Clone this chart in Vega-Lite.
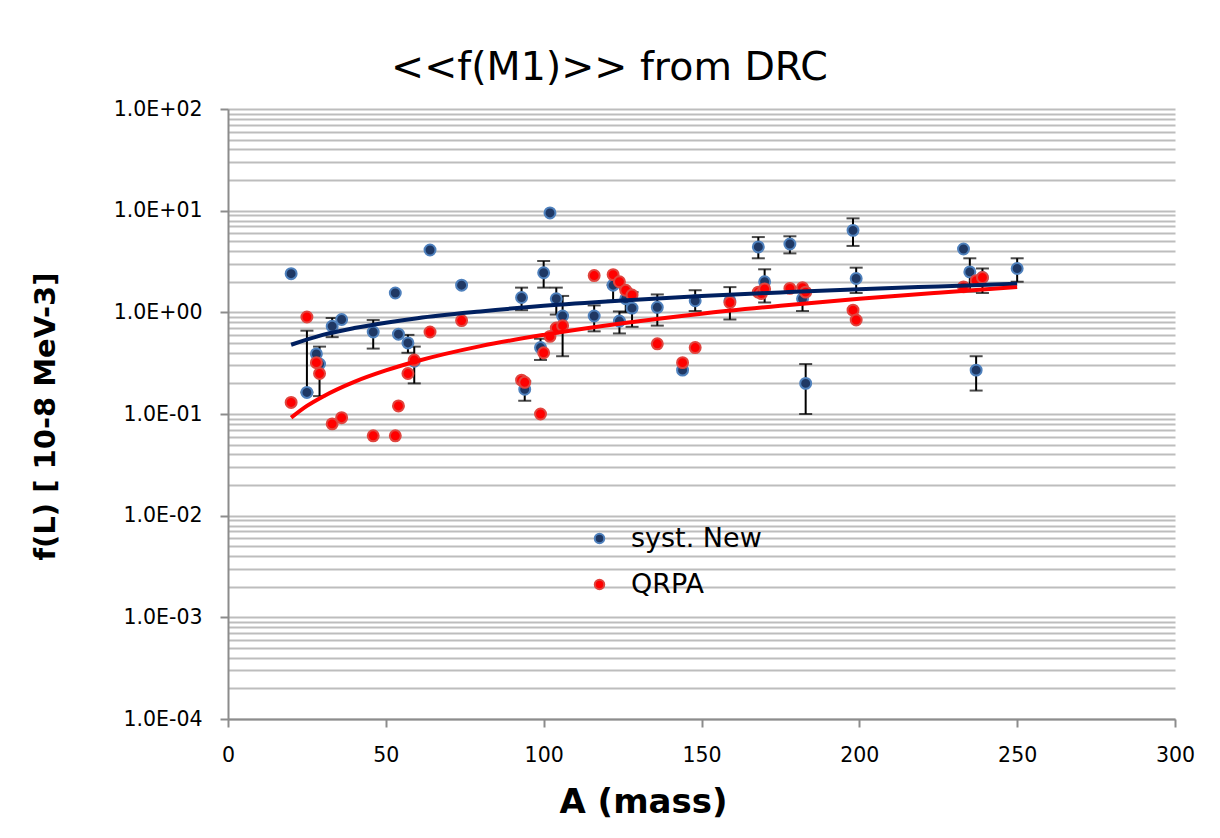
{
  "$schema": "https://vega.github.io/schema/vega-lite/v6.json",
  "autosize": {"type": "none"},
  "width": 947,
  "height": 610,
  "padding": {"left": 228, "top": 109, "right": 45, "bottom": 119},
  "background": "white",
  "title": {"text": "<<f(M1)>> from DRC", "font": "DejaVu Sans", "fontSize": 39.5, "fontWeight": "normal", "color": "black", "anchor": "middle", "frame": "group", "dx": -92, "offset": 11},
  "config": {"view": {"stroke": null}, "font": "DejaVu Sans"},
  "datasets": {
    "pts": [
      {"A": 20, "v": 2.4, "s": "syst. New"},
      {"A": 25, "v": 0.163, "lo": 0.163, "hi": 0.66, "s": "syst. New"},
      {"A": 28, "v": 0.39, "s": "syst. New"},
      {"A": 29, "v": 0.31, "lo": 0.15, "hi": 0.46, "s": "syst. New"},
      {"A": 33, "v": 0.73, "lo": 0.57, "hi": 0.88, "s": "syst. New"},
      {"A": 36, "v": 0.85, "s": "syst. New"},
      {"A": 46, "v": 0.64, "lo": 0.44, "hi": 0.84, "s": "syst. New"},
      {"A": 53, "v": 1.55, "s": "syst. New"},
      {"A": 54, "v": 0.61, "s": "syst. New"},
      {"A": 57, "v": 0.5, "lo": 0.4, "hi": 0.6, "s": "syst. New"},
      {"A": 59, "v": 0.33, "lo": 0.2, "hi": 0.46, "s": "syst. New"},
      {"A": 64, "v": 4.1, "s": "syst. New"},
      {"A": 74, "v": 1.85, "s": "syst. New"},
      {"A": 93, "v": 1.4, "lo": 1.05, "hi": 1.75, "s": "syst. New"},
      {"A": 94, "v": 0.175, "lo": 0.135, "hi": 0.21, "s": "syst. New"},
      {"A": 99, "v": 0.45, "lo": 0.34, "hi": 0.55, "s": "syst. New"},
      {"A": 100, "v": 2.45, "lo": 1.75, "hi": 3.2, "s": "syst. New"},
      {"A": 102, "v": 9.5, "s": "syst. New"},
      {"A": 104, "v": 1.36, "lo": 0.95, "hi": 1.75, "s": "syst. New"},
      {"A": 106, "v": 0.92, "lo": 0.37, "hi": 1.45, "s": "syst. New"},
      {"A": 116, "v": 0.92, "lo": 0.65, "hi": 1.17, "s": "syst. New"},
      {"A": 122, "v": 1.85, "lo": 1.3, "hi": 1.85, "s": "syst. New"},
      {"A": 124, "v": 0.82, "lo": 0.62, "hi": 1.02, "s": "syst. New"},
      {"A": 126, "v": 1.36, "lo": 1.0, "hi": 1.7, "s": "syst. New"},
      {"A": 128, "v": 1.1, "lo": 0.72, "hi": 1.58, "s": "syst. New"},
      {"A": 136, "v": 1.12, "lo": 0.74, "hi": 1.5, "s": "syst. New"},
      {"A": 144, "v": 0.27, "s": "syst. New"},
      {"A": 148, "v": 1.3, "lo": 1.03, "hi": 1.65, "s": "syst. New"},
      {"A": 159, "v": 1.3, "lo": 0.85, "hi": 1.77, "s": "syst. New"},
      {"A": 168, "v": 4.4, "lo": 3.4, "hi": 5.5, "s": "syst. New"},
      {"A": 170, "v": 2.0, "lo": 1.25, "hi": 2.65, "s": "syst. New"},
      {"A": 178, "v": 4.7, "lo": 3.8, "hi": 5.6, "s": "syst. New"},
      {"A": 182, "v": 1.36, "lo": 1.03, "hi": 1.6, "s": "syst. New"},
      {"A": 183, "v": 0.2, "lo": 0.1, "hi": 0.31, "s": "syst. New"},
      {"A": 198, "v": 6.4, "lo": 4.5, "hi": 8.4, "s": "syst. New"},
      {"A": 199, "v": 2.15, "lo": 1.55, "hi": 2.75, "s": "syst. New"},
      {"A": 233, "v": 4.2, "s": "syst. New"},
      {"A": 235, "v": 2.5, "lo": 1.6, "hi": 3.4, "s": "syst. New"},
      {"A": 237, "v": 0.27, "lo": 0.17, "hi": 0.37, "s": "syst. New"},
      {"A": 239, "v": 2.2, "lo": 1.55, "hi": 2.7, "s": "syst. New"},
      {"A": 250, "v": 2.7, "lo": 2.0, "hi": 3.4, "s": "syst. New"},
      {"A": 20, "v": 0.13, "s": "QRPA"},
      {"A": 25, "v": 0.9, "s": "QRPA"},
      {"A": 28, "v": 0.32, "s": "QRPA"},
      {"A": 29, "v": 0.25, "s": "QRPA"},
      {"A": 33, "v": 0.08, "s": "QRPA"},
      {"A": 36, "v": 0.092, "s": "QRPA"},
      {"A": 46, "v": 0.061, "s": "QRPA"},
      {"A": 53, "v": 0.061, "s": "QRPA"},
      {"A": 54, "v": 0.12, "s": "QRPA"},
      {"A": 57, "v": 0.25, "s": "QRPA"},
      {"A": 59, "v": 0.34, "s": "QRPA"},
      {"A": 64, "v": 0.64, "s": "QRPA"},
      {"A": 74, "v": 0.83, "s": "QRPA"},
      {"A": 93, "v": 0.215, "s": "QRPA"},
      {"A": 94, "v": 0.205, "s": "QRPA"},
      {"A": 99, "v": 0.1, "s": "QRPA"},
      {"A": 100, "v": 0.4, "s": "QRPA"},
      {"A": 102, "v": 0.58, "s": "QRPA"},
      {"A": 104, "v": 0.7, "s": "QRPA"},
      {"A": 106, "v": 0.74, "s": "QRPA"},
      {"A": 116, "v": 2.3, "s": "QRPA"},
      {"A": 122, "v": 2.35, "s": "QRPA"},
      {"A": 124, "v": 2.0, "s": "QRPA"},
      {"A": 126, "v": 1.65, "s": "QRPA"},
      {"A": 128, "v": 1.48, "s": "QRPA"},
      {"A": 136, "v": 0.49, "s": "QRPA"},
      {"A": 144, "v": 0.32, "s": "QRPA"},
      {"A": 148, "v": 0.45, "s": "QRPA"},
      {"A": 159, "v": 1.25, "s": "QRPA"},
      {"A": 168, "v": 1.58, "s": "QRPA"},
      {"A": 169, "v": 1.53, "s": "QRPA"},
      {"A": 170, "v": 1.7, "s": "QRPA"},
      {"A": 178, "v": 1.72, "s": "QRPA"},
      {"A": 182, "v": 1.75, "s": "QRPA"},
      {"A": 183, "v": 1.58, "s": "QRPA"},
      {"A": 198, "v": 1.05, "s": "QRPA"},
      {"A": 199, "v": 0.84, "s": "QRPA"},
      {"A": 233, "v": 1.78, "s": "QRPA"},
      {"A": 237, "v": 2.05, "s": "QRPA"},
      {"A": 239, "v": 2.2, "s": "QRPA"}
    ],
    "fitNew": [
      {"A": 20, "v": 0.48}, {"A": 30, "v": 0.6}, {"A": 40, "v": 0.7}, {"A": 50, "v": 0.79},
      {"A": 60, "v": 0.875}, {"A": 80, "v": 1.02}, {"A": 100, "v": 1.16}, {"A": 125, "v": 1.31},
      {"A": 150, "v": 1.45}, {"A": 175, "v": 1.57}, {"A": 200, "v": 1.69}, {"A": 225, "v": 1.8},
      {"A": 250, "v": 1.91}
    ],
    "fitQRPA": [
      {"A": 20, "v": 0.092}, {"A": 25, "v": 0.12}, {"A": 30, "v": 0.148}, {"A": 40, "v": 0.207},
      {"A": 50, "v": 0.268}, {"A": 60, "v": 0.332}, {"A": 80, "v": 0.465}, {"A": 100, "v": 0.6},
      {"A": 125, "v": 0.78}, {"A": 150, "v": 0.97}, {"A": 175, "v": 1.16}, {"A": 200, "v": 1.36},
      {"A": 225, "v": 1.56}, {"A": 250, "v": 1.77}
    ]
  },
  "layer": [
    {
      "data": {"name": "pts"},
      "transform": [{"filter": "isValid(datum.lo)"}],
      "mark": {"type": "errorbar", "color": "black", "ticks": {"size": 13, "thickness": 2, "color": "black"}, "rule": {"strokeWidth": 2, "color": "black"}},
      "encoding": {
        "x": {"field": "A", "type": "quantitative", "title": "A (mass)", "scale": {"domain": [0, 300], "nice": false}},
        "y": {"field": "lo", "type": "quantitative", "title": "f(L) [ 10-8 MeV-3]", "scale": {"type": "log", "domain": [0.0001, 100], "nice": false}},
        "y2": {"field": "hi"}
      }
    },
    {
      "data": {"name": "pts"},
      "mark": {"type": "point", "filled": true, "shape": "circle", "size": 120, "strokeWidth": 2, "opacity": 1, "fillOpacity": 1, "strokeOpacity": 1},
      "encoding": {
        "x": {
          "field": "A", "type": "quantitative", "title": "A (mass)", "scale": {"domain": [0, 300], "nice": false},
          "axis": {
            "title": "A (mass)", "values": [0, 50, 100, 150, 200, 250, 300], "grid": false, "labelFlush": false,
            "domainColor": "#8c8c8c", "domainWidth": 2, "tickColor": "#8c8c8c", "tickWidth": 2, "tickSize": 8,
            "labelFont": "DejaVu Sans", "labelFontSize": 20.5, "labelColor": "black", "labelPadding": 18,
            "titleFont": "DejaVu Sans", "titleFontSize": 34, "titleFontWeight": "bold", "titleColor": "black",
            "titleX": 415, "titleY": 93, "titleAlign": "center", "titleBaseline": "alphabetic"
          }
        },
        "y": {
          "field": "v", "type": "quantitative", "title": "f(L) [ 10-8 MeV-3]", "scale": {"type": "log", "domain": [0.0001, 100], "nice": false},
          "axis": {
            "title": "f(L) [ 10-8 MeV-3]",
            "values": [0.0001, 0.0002, 0.0003, 0.0004, 0.0005, 0.0006, 0.0007, 0.0008, 0.0009,
                       0.001, 0.002, 0.003, 0.004, 0.005, 0.006, 0.007, 0.008, 0.009,
                       0.01, 0.02, 0.03, 0.04, 0.05, 0.06, 0.07, 0.08, 0.09,
                       0.1, 0.2, 0.3, 0.4, 0.5, 0.6, 0.7, 0.8, 0.9,
                       1, 2, 3, 4, 5, 6, 7, 8, 9,
                       10, 20, 30, 40, 50, 60, 70, 80, 90, 100],
            "grid": true, "gridColor": "#bdbdbd", "gridWidth": 2,
            "domainColor": "#8c8c8c", "domainWidth": 2, "tickColor": "#8c8c8c", "tickWidth": 2, "tickSize": 8,
            "tickOpacity": {"condition": {"test": "abs(log(datum.value)/LN10 - round(log(datum.value)/LN10)) < 0.01", "value": 1}, "value": 0},
            "labelExpr": "abs(log(datum.value)/LN10 - round(log(datum.value)/LN10)) < 0.01 ? '1.0E' + (round(log(datum.value)/LN10) < 0 ? '-' : '+') + '0' + abs(round(log(datum.value)/LN10)) : ''",
            "labelOverlap": false, "labelFont": "DejaVu Sans", "labelFontSize": 20.5, "labelColor": "black", "labelPadding": 18,
            "titleFont": "DejaVu Sans", "titleFontSize": 29, "titleFontWeight": "bold", "titleColor": "black",
            "titleX": -183, "titleY": 307, "titleAngle": 270, "titleAlign": "center", "titleBaseline": "middle"
          }
        },
        "fill": {
          "field": "s", "type": "nominal", "sort": null,
          "scale": {"domain": ["syst. New", "QRPA"], "range": ["#1f3864", "#ff0000"]},
          "legend": {
            "title": null, "orient": "none", "legendX": 358, "legendY": 416, "padding": 0,
            "labelFont": "DejaVu Sans", "labelFontSize": 27, "labelColor": "black", "labelOffset": 18,
            "symbolType": "circle", "symbolSize": 90, "symbolStrokeWidth": 2, "rowPadding": 18
          }
        },
        "stroke": {
          "field": "s", "type": "nominal", "sort": null,
          "scale": {"domain": ["syst. New", "QRPA"], "range": ["#4f81bd", "#e0453f"]},
          "legend": {
            "title": null, "orient": "none", "legendX": 358, "legendY": 416, "padding": 0,
            "labelFont": "DejaVu Sans", "labelFontSize": 27, "labelColor": "black", "labelOffset": 18,
            "symbolType": "circle", "symbolSize": 90, "symbolStrokeWidth": 2, "rowPadding": 18
          }
        }
      }
    },
    {
      "data": {"name": "fitNew"},
      "mark": {"type": "line", "color": "#002060", "strokeWidth": 4, "interpolate": "monotone"},
      "encoding": {
        "x": {"field": "A", "type": "quantitative", "title": "A (mass)", "scale": {"domain": [0, 300], "nice": false}},
        "y": {"field": "v", "type": "quantitative", "title": "f(L) [ 10-8 MeV-3]", "scale": {"type": "log", "domain": [0.0001, 100], "nice": false}}
      }
    },
    {
      "data": {"name": "fitQRPA"},
      "mark": {"type": "line", "color": "#ff0000", "strokeWidth": 4, "interpolate": "monotone"},
      "encoding": {
        "x": {"field": "A", "type": "quantitative", "title": "A (mass)", "scale": {"domain": [0, 300], "nice": false}},
        "y": {"field": "v", "type": "quantitative", "title": "f(L) [ 10-8 MeV-3]", "scale": {"type": "log", "domain": [0.0001, 100], "nice": false}}
      }
    }
  ]
}
